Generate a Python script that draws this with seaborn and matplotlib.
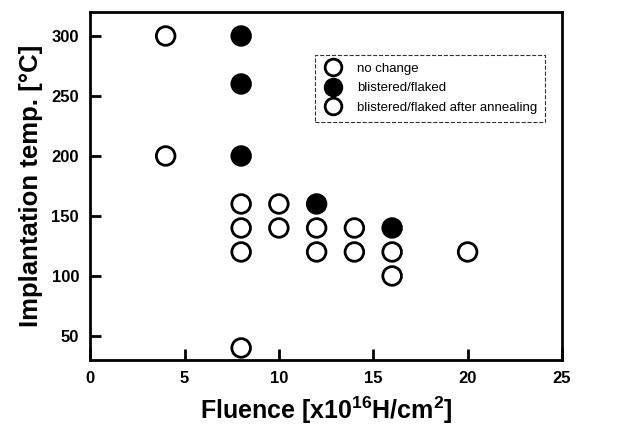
import numpy as np
import pandas as pd
import matplotlib
matplotlib.use('Agg')
import matplotlib.pyplot as plt
from matplotlib.lines import Line2D
import seaborn as sns

# Data
fluence = [4, 4, 8, 8, 8, 8, 10, 10, 12, 12, 14, 14, 16, 16, 20,
           8, 8, 8, 12, 16]
temp = [300, 200, 160, 140, 120, 40, 160, 140, 140, 120, 140, 120, 120, 100, 120,
        300, 260, 200, 160, 140]
state = ['no change'] * 15 + ['blistered/flaked'] * 5
legend_labels = ['no change', 'blistered/flaked', 'blistered/flaked after annealing']
legend_fill = ['white', 'black', 'white']

df = pd.DataFrame({'Fluence': fluence, 'Temp': temp, 'State': state})

sns.set_style('white')
plt.rcParams['font.family'] = ['Liberation Sans', 'DejaVu Sans']
plt.rcParams['text.color'] = 'black'
plt.rcParams['axes.labelcolor'] = 'black'
plt.rcParams['xtick.color'] = 'black'
plt.rcParams['ytick.color'] = 'black'
# bold superscripts in the x label
plt.rcParams['mathtext.fontset'] = 'custom'
plt.rcParams['mathtext.bf'] = 'Liberation Sans:bold'
plt.rcParams['mathtext.rm'] = 'Liberation Sans'

fig = plt.figure(figsize=(6.35, 4.28), dpi=100)
ax = fig.add_axes([0.142, 0.159, 0.743, 0.813])

sns.scatterplot(data=df, x='Fluence', y='Temp', hue='State',
                palette={'no change': 'white', 'blistered/flaked': 'black'},
                s=180, edgecolor='black', linewidth=2, legend=False, ax=ax,
                zorder=3)

ax.set_xlim(0, 25)
ax.set_ylim(30, 320)
ax.set_xticks([0, 5, 10, 15, 20, 25])
ax.set_yticks([50, 100, 150, 200, 250, 300])
ax.tick_params(direction='in', length=8, width=2, left=True, bottom=True,
               labelsize=12, pad=8, colors='black')
for lab in ax.get_xticklabels() + ax.get_yticklabels():
    lab.set_fontweight('bold')
for sp in ax.spines.values():
    sp.set_linewidth(2)
    sp.set_color('black')

ax.set_xlabel(r'Fluence [x10$^{\mathbf{16}}$H/cm$^{\mathbf{2}}$]', fontsize=18,
              fontweight='bold', labelpad=6, color='black')
ax.set_ylabel('Implantation temp. [°C]', fontsize=18.5, fontweight='bold',
              labelpad=6, color='black')

handles = [Line2D([0], [0], marker='o', linestyle='none', markersize=12,
                  markerfacecolor=c, markeredgecolor='black', markeredgewidth=2)
           for c in legend_fill]
leg = ax.legend(handles, legend_labels, loc='upper left',
                bbox_to_anchor=(0.462, 0.896), fontsize=9.5, frameon=True,
                fancybox=False, handletextpad=1.0, borderpad=0.6,
                labelspacing=0.55, handlelength=1.6, labelcolor='black')
leg.get_frame().set_edgecolor('black')
leg.get_frame().set_linewidth(0.8)
leg.get_frame().set_linestyle('--')

fig.savefig('out.png', dpi=100)
